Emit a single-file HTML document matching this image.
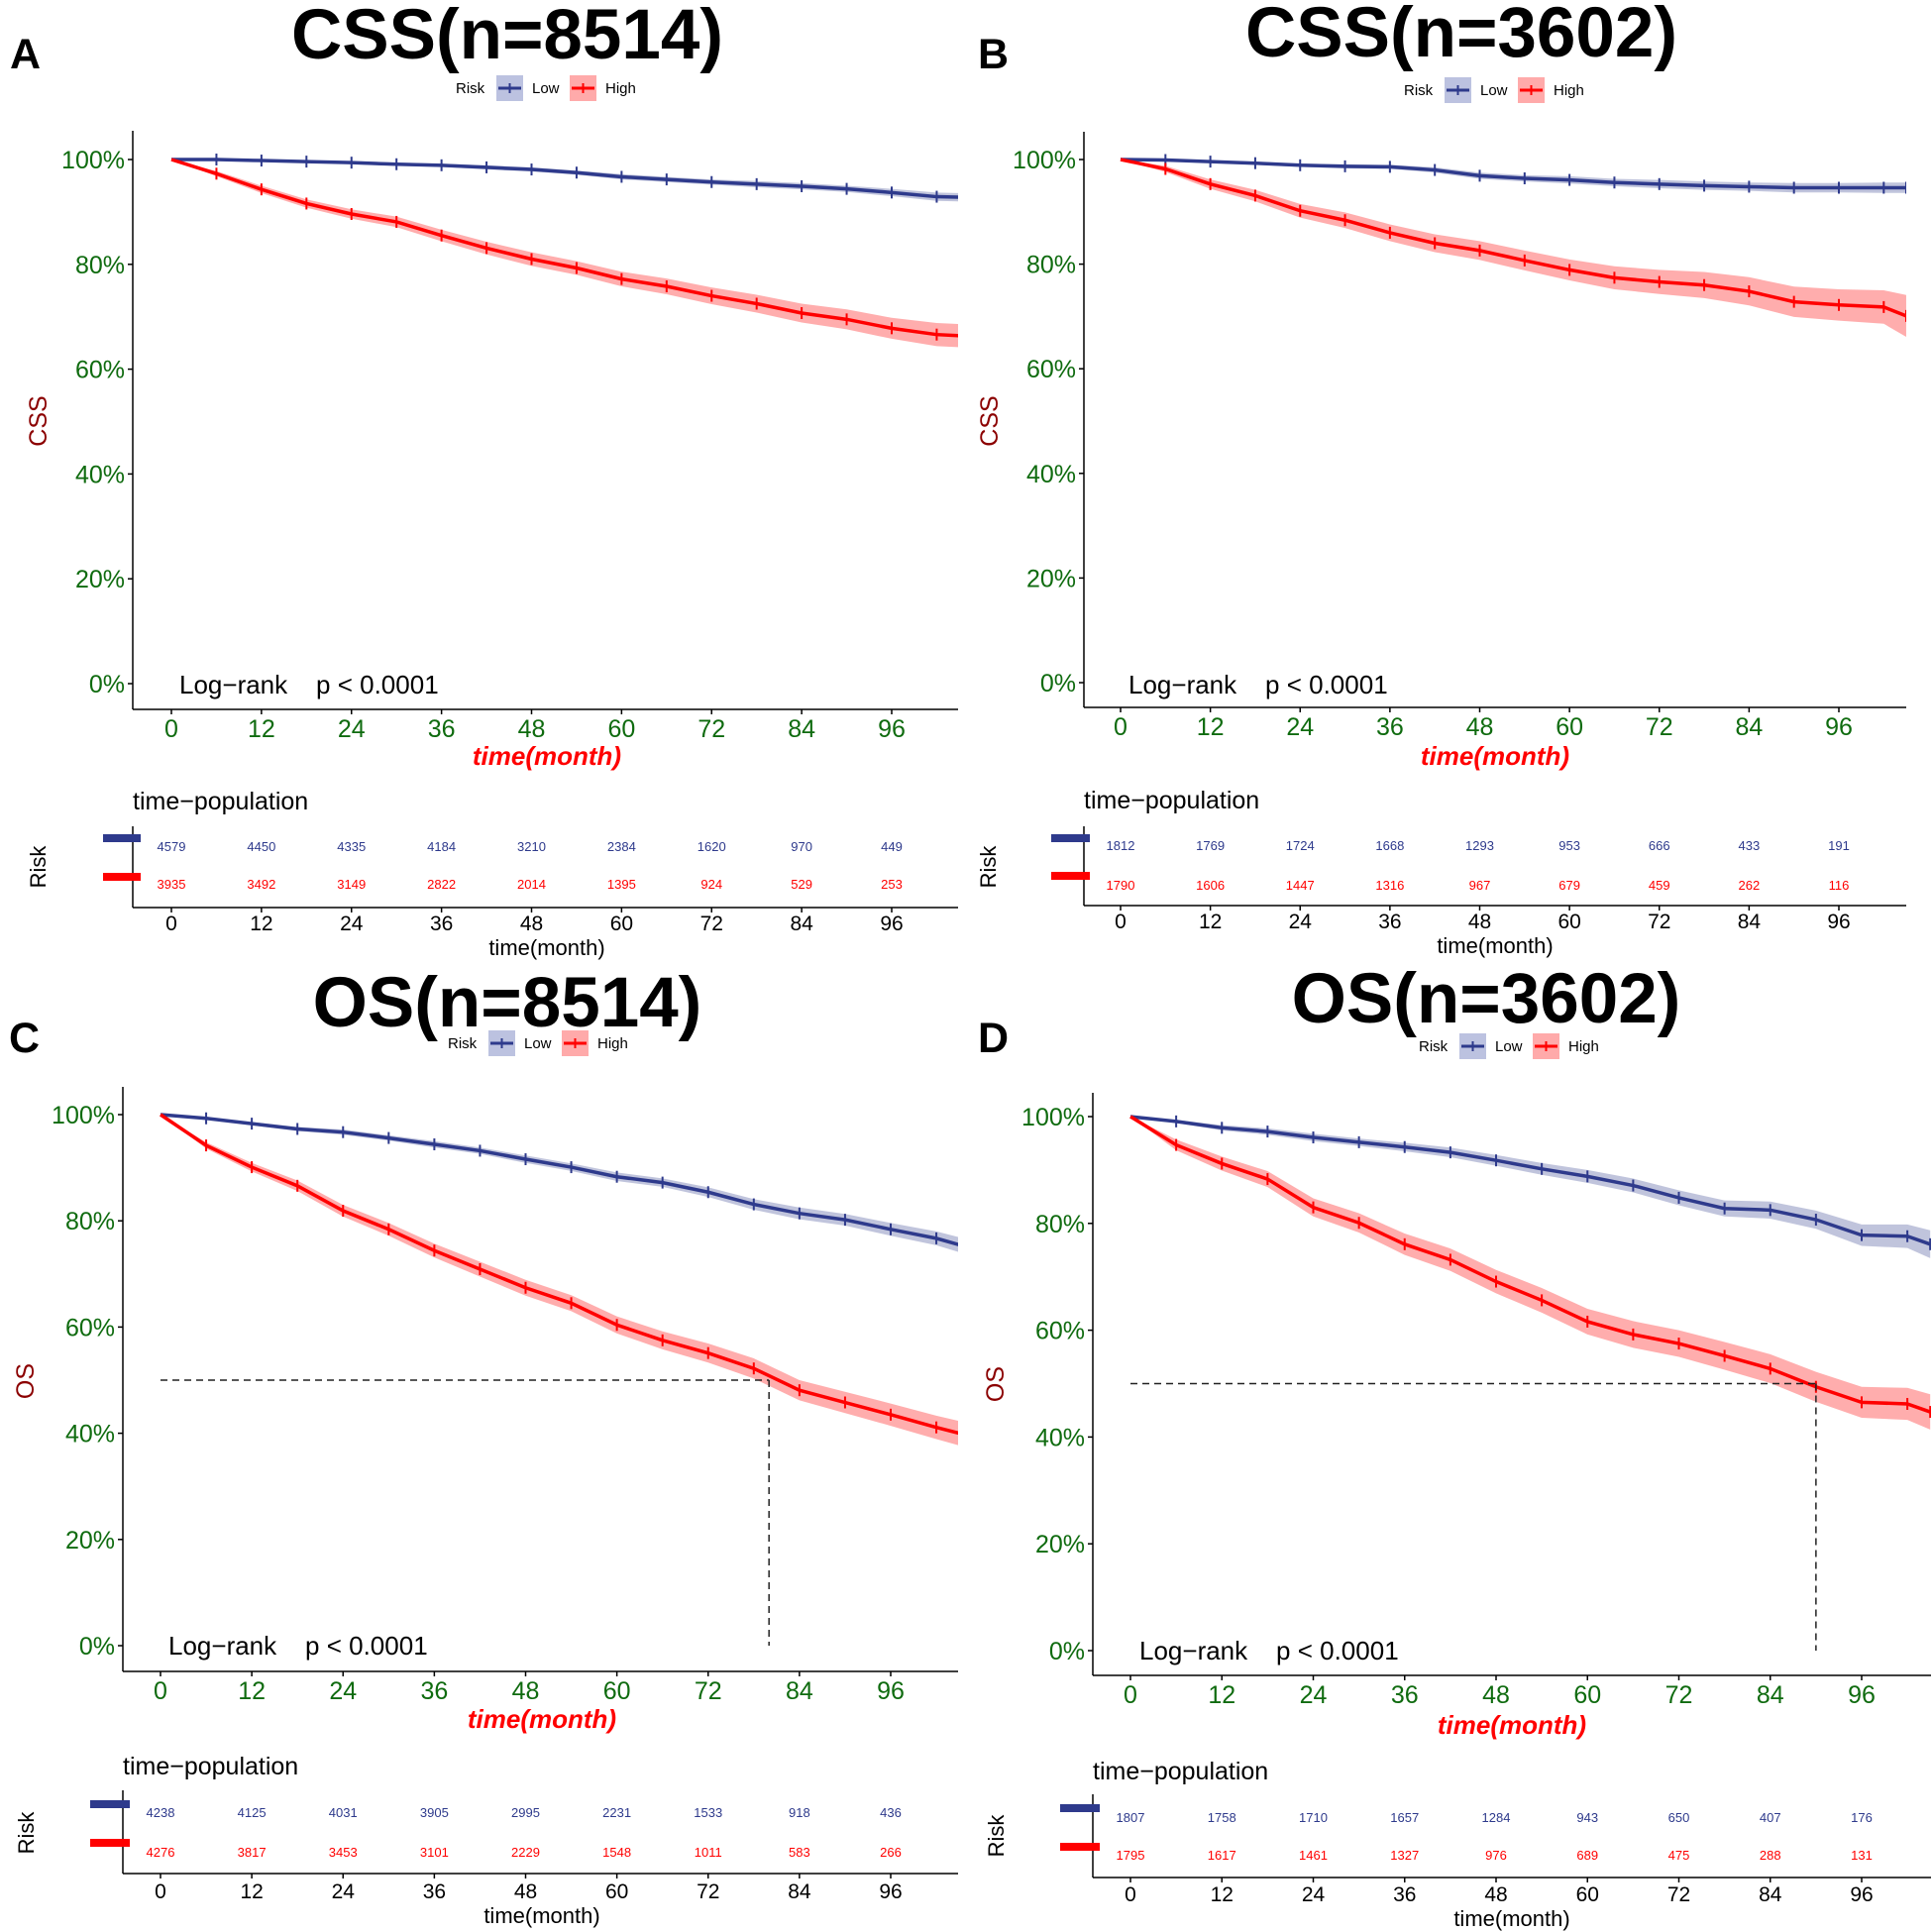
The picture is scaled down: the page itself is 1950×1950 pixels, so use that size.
<!DOCTYPE html>
<html><head><meta charset="utf-8">
<style>
html,body{margin:0;padding:0;background:#fff;}
svg{display:block;font-family:"Liberation Sans",Arial,sans-serif;}
</style></head>
<body>
<svg id="fig" width="1950" height="1950" viewBox="0 0 1950 1950" xmlns="http://www.w3.org/2000/svg"></svg>
<script>
// ---- data ----
const months = [0,6,12,18,24,30,36,42,48,54,60,66,72,78,84,90,96,102,105];
const tableMonths = [0,12,24,36,48,60,72,84,96];
const yTicks = [0,20,40,60,80,100];

const A_low  = [100,100,99.8,99.6,99.4,99.1,98.9,98.5,98.1,97.5,96.7,96.2,95.7,95.3,94.9,94.4,93.7,92.9,92.8];
const A_high = [100,97.3,94.3,91.6,89.6,88.1,85.5,83.1,81.0,79.3,77.2,75.8,74.0,72.5,70.7,69.5,67.8,66.6,66.4];
const B_low  = [100,99.9,99.6,99.3,98.9,98.7,98.6,98.0,96.9,96.4,96.1,95.6,95.3,95.0,94.8,94.6,94.6,94.6,94.6];
const B_high = [100,98.2,95.3,93.1,90.2,88.4,86.0,84.0,82.6,80.7,78.9,77.4,76.6,76.0,74.8,72.8,72.2,71.8,70.1];
const C_low  = [100,99.3,98.3,97.3,96.7,95.6,94.4,93.2,91.6,90.1,88.3,87.2,85.4,83.1,81.4,80.2,78.4,76.7,75.5];
const C_high = [100,94.2,90.1,86.6,81.9,78.4,74.4,70.9,67.4,64.5,60.4,57.5,55.1,52.2,48.1,45.8,43.5,41.1,40.0];
const D_low  = [100,99.1,97.9,97.2,96.1,95.2,94.3,93.3,91.8,90.2,88.8,87.1,84.8,82.8,82.5,80.7,77.8,77.6,76.1];
const D_high = [100,94.7,91.2,88.3,83.0,80.1,76.1,73.2,69.1,65.6,61.6,59.2,57.5,55.2,52.8,49.4,46.5,46.2,44.7];

const A_lowCI  = [0,0.1,0.2,0.2,0.3,0.3,0.3,0.4,0.4,0.4,0.5,0.5,0.5,0.6,0.6,0.6,0.7,0.8,0.8];
const A_highCI = [0,0.5,0.7,0.8,0.9,1.0,1.1,1.2,1.3,1.3,1.4,1.5,1.6,1.7,1.8,1.9,2.0,2.2,2.2];
const B_lowCI  = [0,0.1,0.2,0.3,0.3,0.4,0.4,0.5,0.6,0.6,0.7,0.7,0.8,0.8,0.8,0.9,0.9,1.0,1.0];
const B_highCI = [0,0.6,0.9,1.1,1.3,1.5,1.6,1.7,1.8,1.9,2.0,2.2,2.3,2.5,2.7,2.9,3.0,3.2,4.0];
const C_lowCI  = [0,0.2,0.3,0.4,0.5,0.5,0.6,0.6,0.7,0.7,0.8,0.8,0.9,1.0,1.1,1.1,1.2,1.3,1.4];
const C_highCI = [0,0.6,0.8,1.0,1.1,1.2,1.3,1.4,1.5,1.5,1.6,1.7,1.8,1.9,1.9,2.0,2.1,2.2,2.3];
const D_lowCI  = [0,0.3,0.5,0.6,0.7,0.7,0.8,0.9,1.0,1.1,1.2,1.3,1.4,1.5,1.6,1.7,2.0,2.2,2.6];
const D_highCI = [0,1.0,1.3,1.5,1.7,1.8,2.0,2.1,2.2,2.3,2.4,2.5,2.5,2.6,2.7,2.8,2.9,3.0,3.3];

const A_tabLow  = [4579,4450,4335,4184,3210,2384,1620,970,449];
const A_tabHigh = [3935,3492,3149,2822,2014,1395,924,529,253];
const B_tabLow  = [1812,1769,1724,1668,1293,953,666,433,191];
const B_tabHigh = [1790,1606,1447,1316,967,679,459,262,116];
const C_tabLow  = [4238,4125,4031,3905,2995,2231,1533,918,436];
const C_tabHigh = [4276,3817,3453,3101,2229,1548,1011,583,266];
const D_tabLow  = [1807,1758,1710,1657,1284,943,650,407,176];
const D_tabHigh = [1795,1617,1461,1327,976,689,475,288,131];

const A_median = null, B_median = null, C_median = 80, D_median = 90;

// ---- drawing ----
const NS = "http://www.w3.org/2000/svg";
const svg = document.getElementById('fig');
function mk(tag, attrs, parent, txt){
  const e = document.createElementNS(NS, tag);
  for (const k in attrs) e.setAttribute(k, attrs[k]);
  if (txt !== undefined) e.textContent = txt;
  (parent||svg).appendChild(e);
  return e;
}
const BLUE = "#2e3a8c", RED = "#ff0000", GREEN = "#0f6b0f", DARKRED = "#8b0000";
const defs = mk('defs', {});

function panel(p){
  const g = mk('g', {});
  
  
  const ppm = (p.x96 - p.x0) / 96;
  const xs = m => p.x0 + m * ppm;
  const ys = v => p.y0 + (p.y1 - p.y0) * v / 100;

  const cp = mk('clipPath', {id:'clip-' + p.id}, defs);
  mk('rect', {x:p.axisX, y:p.top-20, width:p.right - p.axisX, height:p.bottom - p.top + 20}, cp);

  let t = mk('text', {x:p.letterX, y:p.letterY, 'font-size':43, 'font-weight':'bold'}, g, p.letter);
   
  t = mk('text', {x:p.titleX, y:p.titleY, 'font-size':71, 'font-weight':'bold', 'text-anchor':'middle'}, g, p.title);
   

  // legend
  const lg = mk('g', {}, g);
   
  const lx = p.legX, ly = p.legY;
  mk('text', {x:lx, y:ly+5, 'font-size':15}, lg, 'Risk');
  mk('rect', {x:lx+41, y:ly-13, width:27, height:26, fill:'#bcc2e0'}, lg);
  mk('line', {x1:lx+43, x2:lx+66, y1:ly, y2:ly, stroke:BLUE, 'stroke-width':3}, lg);
  mk('line', {x1:lx+54.5, x2:lx+54.5, y1:ly-5, y2:ly+5, stroke:BLUE, 'stroke-width':2}, lg);
  mk('text', {x:lx+77, y:ly+5, 'font-size':15}, lg, 'Low');
  mk('rect', {x:lx+115, y:ly-13, width:27, height:26, fill:'#ffaaaa'}, lg);
  mk('line', {x1:lx+117, x2:lx+140, y1:ly, y2:ly, stroke:RED, 'stroke-width':3}, lg);
  mk('line', {x1:lx+128.5, x2:lx+128.5, y1:ly-5, y2:ly+5, stroke:RED, 'stroke-width':2}, lg);
  mk('text', {x:lx+151, y:ly+5, 'font-size':15}, lg, 'High');

  // axes
  let a = mk('line', {x1:p.axisX, x2:p.axisX, y1:p.top, y2:p.bottom, stroke:'#000', 'stroke-width':1.5}, g);
   
  a = mk('line', {x1:p.axisX, x2:p.right, y1:p.bottom, y2:p.bottom, stroke:'#000', 'stroke-width':1.5}, g);
   
  yTicks.forEach(v => {
    mk('line', {x1:p.axisX-5, x2:p.axisX, y1:ys(v), y2:ys(v), stroke:'#000', 'stroke-width':1.5}, g);
    const tl = mk('text', {x:p.axisX-8, y:ys(v)+9, 'font-size':25, fill:GREEN, 'text-anchor':'end'}, g, v + '%');
     
  });
  tableMonths.forEach(m => {
    mk('line', {x1:xs(m), x2:xs(m), y1:p.bottom, y2:p.bottom+5, stroke:'#000', 'stroke-width':1.5}, g);
    const tl = mk('text', {x:xs(m), y:p.bottom+28, 'font-size':25, fill:GREEN, 'text-anchor':'middle'}, g, m);
     
  });
  t = mk('text', {x:p.ylabX, y:p.ylabY, 'font-size':25, fill:DARKRED, 'text-anchor':'middle', transform:`rotate(-90 ${p.ylabX} ${p.ylabY})`}, g, p.ylab);
   
  t = mk('text', {x:p.xlabX, y:p.xlabY, 'font-size':26, fill:RED, 'font-weight':'bold', 'font-style':'italic', 'text-anchor':'middle'}, g, 'time(month)');
   
  t = mk('text', {x:p.lrX, y:p.lrY, 'font-size':26}, g, 'Log\u2212rank\u00a0\u00a0\u00a0\u00a0p < 0.0001');
   

  const cg = mk('g', {'clip-path':'url(#clip-' + p.id + ')'}, g);
  // curves
  function series(vals, ci, color, fill, name){
    let up = '', lo = '';
    months.forEach((m,i) => { up += (i?'L':'M') + xs(m) + ' ' + ys(vals[i]+ci[i]) + ' '; });
    for (let i = months.length-1; i >= 0; i--) lo += 'L' + xs(months[i]) + ' ' + ys(vals[i]-ci[i]) + ' ';
    const band = mk('path', {d: up + lo + 'Z', fill: fill, stroke:'none'}, cg);
     
    let d2 = '';
    months.forEach((m,i) => { d2 += (i?'L':'M') + xs(m) + ' ' + ys(vals[i]) + ' '; });
    const ln = mk('path', {d: d2, fill:'none', stroke:color, 'stroke-width':3.5}, cg);
     
    months.forEach((m,i) => {
      if (i === 0) return;
      const ck = mk('line', {x1:xs(m), x2:xs(m), y1:ys(vals[i])-6, y2:ys(vals[i])+6, stroke:color, 'stroke-width':2}, cg);
       
    });
  }
  series(p.low, p.lowCI, BLUE, 'rgba(46,58,140,0.3)', 'low-risk');
  series(p.high, p.highCI, RED, 'rgba(255,0,0,0.32)', 'high-risk');

  if (p.median !== null){
    const mx = xs(p.median), my = ys(50);
    let dl = mk('line', {x1:p.x0, x2:mx, y1:my, y2:my, stroke:'#222', 'stroke-width':1.5, 'stroke-dasharray':'7 5'}, g);
     
    dl = mk('line', {x1:mx, x2:mx, y1:my, y2:ys(0), stroke:'#222', 'stroke-width':1.5, 'stroke-dasharray':'7 5'}, g);
     
  }

  // risk table
  const tg = mk('g', {}, g);
   
  mk('text', {x:p.axisX, y:p.tpY, 'font-size':25}, tg, 'time\u2212population');
  mk('line', {x1:p.axisX, x2:p.axisX, y1:p.tTop, y2:p.tAxis, stroke:'#000', 'stroke-width':1.5}, tg);
  mk('line', {x1:p.axisX, x2:p.right, y1:p.tAxis, y2:p.tAxis, stroke:'#000', 'stroke-width':1.5}, tg);
  mk('rect', {x:p.barX1, y:p.barBlue-4, width:p.barX2-p.barX1, height:8, fill:BLUE}, tg);
  mk('rect', {x:p.barX1, y:p.barRed-4, width:p.barX2-p.barX1, height:8, fill:RED}, tg);
  tableMonths.forEach((m,i) => {
    let n = mk('text', {x:xs(m), y:p.numBlue, 'font-size':13, fill:BLUE, 'text-anchor':'middle'}, tg, p.tabLow[i]);
     
    n = mk('text', {x:xs(m), y:p.numRed, 'font-size':13, fill:RED, 'text-anchor':'middle'}, tg, p.tabHigh[i]);
     
    mk('line', {x1:xs(m), x2:xs(m), y1:p.tAxis, y2:p.tAxis+5, stroke:'#000', 'stroke-width':1.5}, tg);
    mk('text', {x:xs(m), y:p.tTick, 'font-size':21, 'text-anchor':'middle'}, tg, m);
  });
  mk('text', {x:p.xlabX, y:p.tmY, 'font-size':22, 'text-anchor':'middle'}, tg, 'time(month)');
  mk('text', {x:p.riskX, y:p.riskY, 'font-size':22, 'text-anchor':'middle', transform:`rotate(-90 ${p.riskX} ${p.riskY})`}, tg, 'Risk');
}

panel({id:'a', letter:'A', letterX:10, letterY:69, title:'CSS(n=8514)', titleX:512, titleY:59, legX:460, legY:89,
  axisX:134, top:132, bottom:716, right:967, y1:161, y0:690, x0:173, x96:900,
  ylab:'CSS', ylabX:47, ylabY:425, xlabX:552, xlabY:772, lrX:181, lrY:700,
  low:A_low, high:A_high, lowCI:A_lowCI, highCI:A_highCI, median:A_median,
  tpY:817, tTop:834, tAxis:916, barX1:104, barX2:142, barBlue:846, barRed:885, numBlue:859, numRed:897, tTick:939, tmY:964,
  riskX:46, riskY:875, tabLow:A_tabLow, tabHigh:A_tabHigh});
panel({id:'b', letter:'B', letterX:987, letterY:69, title:'CSS(n=3602)', titleX:1475, titleY:57, legX:1417, legY:91,
  axisX:1094, top:133, bottom:714, right:1924, y1:161, y0:689, x0:1131, x96:1856,
  ylab:'CSS', ylabX:1007, ylabY:425, xlabX:1509, xlabY:772, lrX:1139, lrY:700,
  low:B_low, high:B_high, lowCI:B_lowCI, highCI:B_highCI, median:B_median,
  tpY:816, tTop:834, tAxis:914, barX1:1061, barX2:1100, barBlue:846, barRed:884, numBlue:858, numRed:898, tTick:937, tmY:962,
  riskX:1005, riskY:875, tabLow:B_tabLow, tabHigh:B_tabHigh});
panel({id:'c', letter:'C', letterX:9, letterY:1062, title:'OS(n=8514)', titleX:512, titleY:1036, legX:452, legY:1053,
  axisX:124, top:1097, bottom:1687, right:967, y1:1125, y0:1661, x0:162, x96:899,
  ylab:'OS', ylabX:34, ylabY:1394, xlabX:547, xlabY:1744, lrX:170, lrY:1670,
  low:C_low, high:C_high, lowCI:C_lowCI, highCI:C_highCI, median:C_median,
  tpY:1791, tTop:1807, tAxis:1891, barX1:91, barX2:131, barBlue:1821, barRed:1860, numBlue:1834, numRed:1874, tTick:1916, tmY:1941,
  riskX:34, riskY:1850, tabLow:C_tabLow, tabHigh:C_tabHigh});
panel({id:'d', letter:'D', letterX:987, letterY:1062, title:'OS(n=3602)', titleX:1500, titleY:1032, legX:1432, legY:1056,
  axisX:1103, top:1103, bottom:1691, right:1949, y1:1127, y0:1666, x0:1141, x96:1879,
  ylab:'OS', ylabX:1013, ylabY:1397, xlabX:1526, xlabY:1750, lrX:1150, lrY:1675,
  low:D_low, high:D_high, lowCI:D_lowCI, highCI:D_highCI, median:D_median,
  tpY:1796, tTop:1811, tAxis:1895, barX1:1070, barX2:1110, barBlue:1825, barRed:1864, numBlue:1839, numRed:1877, tTick:1919, tmY:1944,
  riskX:1013, riskY:1853, tabLow:D_tabLow, tabHigh:D_tabHigh});
</script>
</body></html>
